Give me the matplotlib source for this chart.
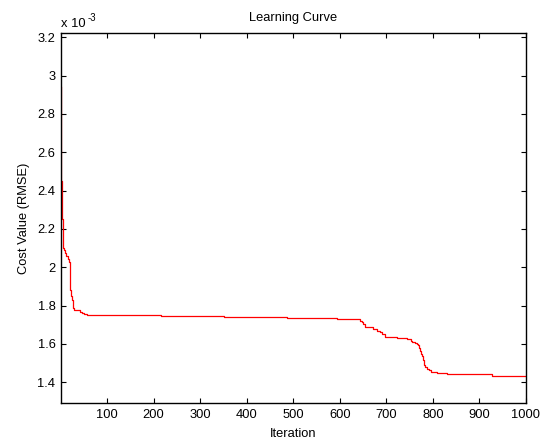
import numpy as np
import matplotlib
matplotlib.use('Agg')
import matplotlib.pyplot as plt

# learning curve breakpoints (cost in units of 1e-3)
iters = [1, 2, 3, 4, 5, 6, 8, 10, 12, 15, 18, 19, 20, 21, 22, 24, 26, 29,
         36, 42, 46, 50, 57, 216, 351, 486, 594, 644, 647, 650, 655, 665,
         672, 680, 686, 691, 698, 723, 744, 752, 755, 762, 766, 768, 770,
         772, 774, 776, 778, 780, 782, 784, 788, 791, 796, 800, 809, 820,
         830, 927, 1000]
cost = [2.94, 2.45, 2.26, 2.25, 2.18, 2.10, 2.09, 2.075, 2.06, 2.045, 2.035,
        2.03, 1.96, 1.88, 1.85, 1.83, 1.79, 1.778, 1.775, 1.768, 1.762,
        1.756, 1.750, 1.745, 1.740, 1.735, 1.728, 1.722, 1.712, 1.705, 1.690,
        1.686, 1.680, 1.670, 1.662, 1.652, 1.638, 1.631, 1.624, 1.615, 1.609,
        1.604, 1.600, 1.592, 1.58, 1.565, 1.55, 1.535, 1.515, 1.497, 1.488,
        1.478, 1.468, 1.462, 1.456, 1.453, 1.449, 1.446, 1.442, 1.435, 1.434]

xticks = [100, 200, 300, 400, 500, 600, 700, 800, 900, 1000]
yticks = [1.4, 1.6, 1.8, 2.0, 2.2, 2.4, 2.6, 2.8, 3.0, 3.2]

fs = 9.3
plt.rcParams['font.family'] = ['Liberation Sans', 'DejaVu Sans']
plt.rcParams['font.size'] = fs

fig = plt.figure(figsize=(5.47, 4.41), dpi=100)
ax = fig.add_axes([0.1115, 0.0855, 0.85, 0.839])

ax.step(iters, cost, where='post', color='red', lw=0.9)

ax.set_xlim(1, 1000)
ax.set_ylim(1.2904, 3.221)
ax.set_xticks(xticks)
ax.set_xticklabels(['%g' % t for t in xticks])
ax.set_yticks(yticks)
ax.set_yticklabels(['%g' % t for t in yticks])
ax.tick_params(direction='in', top=True, right=True, length=3.6, width=0.8,
               pad=4, labelsize=fs)
for s in ax.spines.values():
    s.set_linewidth(1.0)

ax.set_title('Learning Curve', fontsize=fs, pad=9)
ax.set_xlabel('Iteration', labelpad=5)
ax.set_ylabel('Cost Value (RMSE)', labelpad=5)

# MATLAB style exponent label
fig.text(61 / 547, 1 - 27 / 441, 'x 10', ha='left', va='baseline', fontsize=fs)
fig.text(88 / 547, 1 - 21 / 441, '-3', ha='left', va='baseline', fontsize=fs * 0.75)

plt.savefig('out.png', dpi=100)
